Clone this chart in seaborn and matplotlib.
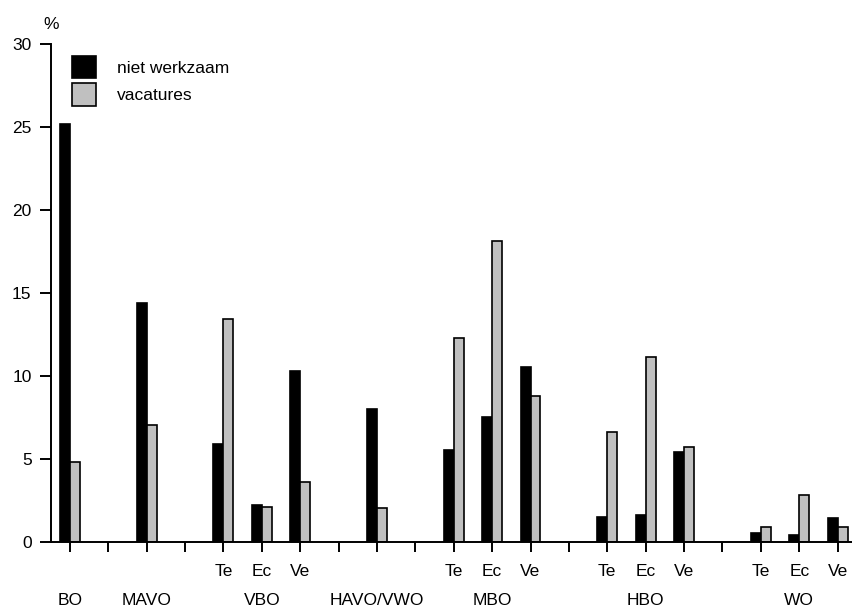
import numpy as np
import pandas as pd
import matplotlib
matplotlib.use("Agg")
import matplotlib.pyplot as plt
import matplotlib.transforms as mtransforms
import seaborn as sns

# opleidingsniveaus met (eventueel) richtingen
groups = ["BO", "MAVO", "VBO", "HAVO/VWO", "MBO", "HBO", "WO"]
subs = [[""], [""], ["Te", "Ec", "Ve"], [""], ["Te", "Ec", "Ve"], ["Te", "Ec", "Ve"], ["Te", "Ec", "Ve"]]

niet_werkzaam = [25.2, 14.4, 5.9, 2.2, 10.3, 8.0, 5.5, 7.5, 10.5, 1.5, 1.6, 5.4, 0.5, 0.4, 1.4]
vacatures = [4.8, 7.0, 13.4, 2.1, 3.6, 2.0, 12.3, 18.1, 8.8, 6.6, 11.1, 5.7, 0.9, 2.8, 0.9]
series = ["niet werkzaam", "vacatures"]

# slot per bar-paar, met een lege slot tussen de niveaus
pos, sub_labels, group_centers = [], [], []
slot = 0
for g, s in zip(groups, subs):
    start = slot
    for lab in s:
        pos.append(slot)
        sub_labels.append(lab)
        slot += 1
    group_centers.append((start + slot - 1) / 2)
    slot += 1
n_ticks = pos[-1] + 1

df = pd.DataFrame({
    "pos": pos * 2,
    "waarde": niet_werkzaam + vacatures,
    "serie": [series[0]] * len(pos) + [series[1]] * len(pos),
})

sns.set_style("ticks")
plt.rcParams["font.family"] = ["Liberation Sans", "DejaVu Sans"]
plt.rcParams.update({"text.color": "black", "axes.edgecolor": "black",
                     "xtick.color": "black", "ytick.color": "black",
                     "axes.labelcolor": "black"})

fig, ax = plt.subplots(figsize=(8.53, 6.09), dpi=100)
fig.subplots_adjust(left=0.0598, right=1.0, bottom=0.1108, top=0.9278)

sns.barplot(data=df, x="pos", y="waarde", hue="serie", hue_order=series,
            palette={series[0]: "black", series[1]: "#c0c0c0"},
            native_scale=True, width=0.52, dodge=True,
            edgecolor="black", linewidth=1.2, saturation=1, ax=ax)

tick_labels = [""] * n_ticks
for p, lab in zip(pos, sub_labels):
    tick_labels[p] = lab
ax.set_xticks(range(n_ticks))
ax.set_xticklabels(tick_labels)

ax.set_xlim(-0.49, 20.4)
ax.set_ylim(0, 30)
ax.set_yticks([0, 5, 10, 15, 20, 25, 30])
ax.set_xlabel("")
ax.set_ylabel("")

ax.tick_params(axis="x", length=7, width=1.4, pad=9, labelsize=12.5, direction="out")
ax.tick_params(axis="y", length=8, width=1.4, pad=6, labelsize=12.5, direction="out")

sns.despine(ax=ax)
for sp in ["left", "bottom"]:
    ax.spines[sp].set_linewidth(1.4)

trans = mtransforms.blended_transform_factory(ax.transData, ax.transAxes)
for g, c in zip(groups, group_centers):
    ax.text(c, -0.118, g, transform=trans, ha="center", va="center", fontsize=12.5)

ax.text(0, 1.04, "%", transform=ax.transAxes, ha="center", va="center", fontsize=12.5)

ax.legend(title=None, frameon=False, loc="upper left", bbox_to_anchor=(0.026, 0.976),
          borderpad=0, borderaxespad=0, handlelength=1.4, handleheight=1.6,
          handletextpad=1.2, labelspacing=0.3, fontsize=12.5)

fig.savefig("out.png", dpi=100)
